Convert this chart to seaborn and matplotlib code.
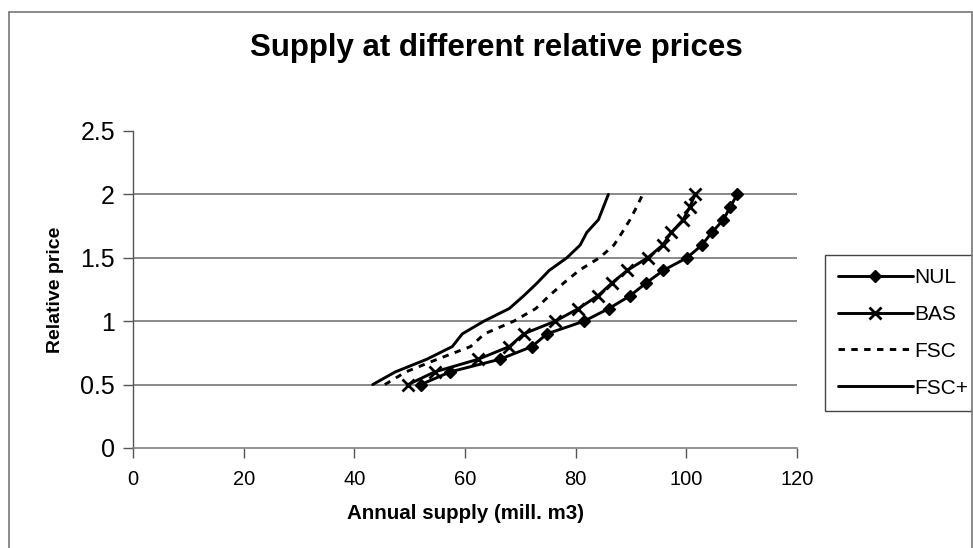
import matplotlib
matplotlib.use("Agg")
import matplotlib.pyplot as plt
from matplotlib.lines import Line2D
import seaborn as sns
import pandas as pd

# Relative price levels and the annual supply (mill. m3) for each scenario
price = [0.5, 0.6, 0.7, 0.8, 0.9, 1.0, 1.1, 1.2, 1.3, 1.4, 1.5, 1.6, 1.7, 1.8, 1.9, 2.0]
nul = [52.0, 57.3, 66.3, 72.1, 74.8, 81.5, 86.0, 89.8, 92.7, 95.8, 100.1, 102.8, 104.6, 106.7, 107.9, 109.2]
bas = [49.7, 54.5, 62.4, 68.0, 70.6, 76.3, 80.5, 84.0, 86.5, 89.3, 93.0, 95.7, 97.3, 99.4, 100.6, 101.6]
fsc = [45.5, 49.3, 55.0, 61.0, 63.5, 68.8, 72.8, 75.2, 77.8, 80.6, 84.3, 86.9, 88.4, 89.8, 91.0, 92.1]
fsc_plus = [43.3, 47.4, 53.1, 57.7, 59.5, 63.4, 68.0, 70.6, 73.0, 75.2, 78.4, 80.8, 82.0, 84.1, 85.0, 85.9]

series_names = ["NUL", "BAS", "FSC", "FSC+"]
series_values = [nul, bas, fsc, fsc_plus]
x_ticks = [0, 20, 40, 60, 80, 100, 120]
y_ticks = [0, 0.5, 1, 1.5, 2, 2.5]

frames = [pd.DataFrame({"scenario": n, "price": price, "supply": v})
          for n, v in zip(series_names, series_values)]
df = pd.concat(frames, ignore_index=True)

sns.set_theme(style="white")
plt.rcParams["font.family"] = ["Liberation Sans", "DejaVu Sans"]
for key in ["text.color", "axes.labelcolor", "xtick.color", "ytick.color"]:
    plt.rcParams[key] = "black"

fig = plt.figure(figsize=(9.73, 5.48), dpi=100)
ax = fig.add_axes([0.1367, 0.1825, 0.6825, 0.5785])

styles = {
    "NUL": dict(marker="D", markersize=6.5, linestyle="-", linewidth=2.1),
    "BAS": dict(marker="x", markersize=9, markeredgewidth=2.0, linestyle="-", linewidth=2.1),
    "FSC": dict(marker=None, linestyle=(0, (2.2, 2.2)), linewidth=2.1),
    "FSC+": dict(marker=None, linestyle="-", linewidth=2.1),
}

for name in series_names:
    sub = df[df["scenario"] == name]
    st = styles[name]
    sns.lineplot(data=sub, x="supply", y="price", sort=False, estimator=None,
                 color="black", ax=ax, label=name,
                 marker=st["marker"], markersize=st.get("markersize", 6),
                 markeredgewidth=st.get("markeredgewidth", 1.0),
                 markeredgecolor="black", markerfacecolor="black",
                 linestyle=st["linestyle"], linewidth=st["linewidth"])

ax.set_xlim(0, 120)
ax.set_ylim(0, 2.5)
ax.set_xticks(x_ticks)
ax.set_yticks(y_ticks)
ax.set_xticklabels([str(t) for t in x_ticks], fontsize=14.5)
ax.set_yticklabels([f"{t:g}" for t in y_ticks], fontsize=18)

# horizontal gridlines at each major unit below the top
for yv in y_ticks[1:-1]:
    ax.axhline(yv, color="#6a6a6a", linewidth=1.1, zorder=0)

for side in ["top", "right"]:
    ax.spines[side].set_visible(False)
ax.spines["left"].set_color("#555555")
ax.spines["left"].set_linewidth(1.0)
ax.spines["bottom"].set_color("#808080")
ax.spines["bottom"].set_linewidth(1.2)

ax.tick_params(axis="both", which="major", direction="out", length=7, width=1.0,
               color="#555555", left=True, bottom=True)
ax.tick_params(axis="y", pad=6)
ax.tick_params(axis="x", pad=9)

ax.set_xlabel("Annual supply (mill. m3)", fontsize=14.8, fontweight="bold", labelpad=11)
ax.set_ylabel("Relative price", fontsize=14, fontweight="bold", labelpad=12)

fig.text(0.51, 0.913, "Supply at different relative prices", ha="center", va="center",
         fontsize=22.5, fontweight="bold")

leg = ax.legend(loc="upper left", bbox_to_anchor=(825 / 973, 1 - 255 / 548),
                bbox_transform=fig.transFigure, frameon=True,
                fontsize=15, handlelength=3.6, handletextpad=0.05,
                labelspacing=0.86, borderpad=0.62, borderaxespad=0, fancybox=False)
leg.get_frame().set_edgecolor("#444444")
leg.get_frame().set_linewidth(1.0)
leg.get_frame().set_alpha(1.0)

# outer chart border (left, top and right edges)
border = dict(color="#777777", linewidth=1.2, transform=fig.transFigure)
fig.add_artist(Line2D([9 / 973, 9 / 973], [0, 1 - 12 / 548], **border))
fig.add_artist(Line2D([9 / 973, 971.5 / 973], [1 - 12 / 548, 1 - 12 / 548], **border))
fig.add_artist(Line2D([971.5 / 973, 971.5 / 973], [0, 1 - 12 / 548], **border))

fig.savefig("out.png", dpi=100)
